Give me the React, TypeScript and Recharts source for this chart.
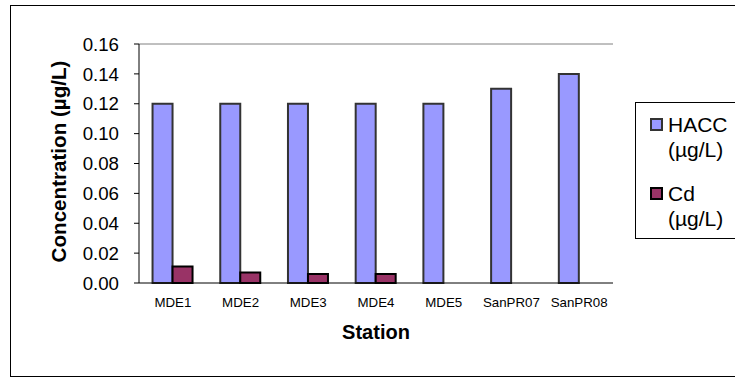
import { BarChart, Bar, XAxis, YAxis, ReferenceLine, Label } from "recharts";

const stations = ["MDE1", "MDE2", "MDE3", "MDE4", "MDE5", "SanPR07", "SanPR08"];
const hacc = [0.12, 0.12, 0.12, 0.12, 0.12, 0.13, 0.14];
const cd = [0.011, 0.007, 0.006, 0.006, null, null, null];
const yTicks = [0, 0.02, 0.04, 0.06, 0.08, 0.1, 0.12, 0.14, 0.16];
const boundaryTicks = [0, 1, 2, 3, 4, 5, 6, 7];

const FONT = '"Liberation Sans", Arial, sans-serif';
const HACC_FILL = "#9999FF";
const CD_FILL = "#993366";

const data = stations.map((s, i) => ({ station: s, hacc: hacc[i], cd: cd[i] }));

const legendItems = [
  { name: "HACC", fill: HACC_FILL, stroke: "#333333", top: 112 },
  { name: "Cd", fill: CD_FILL, stroke: "#000000", top: 180.6 },
];

export default function App() {
  return (
    <div
      style={{
        position: "absolute",
        left: 0,
        top: 0,
        width: 735,
        height: 377,
        overflow: "hidden",
        background: "#fff",
        fontFamily: FONT,
      }}
    >
      {/* chart area border */}
      <div
        style={{
          position: "absolute",
          left: 10,
          top: 5,
          width: 800,
          height: 372,
          border: "1px solid #000",
          boxSizing: "border-box",
        }}
      />

      <div style={{ position: "absolute", left: 0, top: 0 }}>
        <BarChart
          width={735}
          height={377}
          data={data}
          margin={{ top: 44, right: 122, bottom: 54, left: 59 }}
          barCategoryGap="20%"
          barGap={0}
        >
          <XAxis
            xAxisId="tk"
            type="number"
            domain={[0, 7]}
            ticks={boundaryTicks}
            height={0}
            axisLine={false}
            tickLine={{ stroke: "#000" }}
            tickSize={5}
            tick={() => <g />}
          />
          <XAxis
            xAxisId="cat"
            dataKey="station"
            height={40}
            axisLine={{ stroke: "#000" }}
            tickLine={false}
            tickSize={0}
            tickMargin={15}
            interval={0}
            tick={{ fill: "#000", fontSize: 13.3, fontFamily: FONT }}
          >
            <Label
              content={({ viewBox }: any) => (
                <text
                  x={viewBox.x + viewBox.width / 2}
                  y={viewBox.y + 56}
                  textAnchor="middle"
                  fontFamily={FONT}
                  fontWeight="bold"
                  fontSize={20}
                  fill="#000"
                >
                  Station
                </text>
              )}
            />
          </XAxis>
          <YAxis
            width={80}
            domain={[0, 0.16]}
            ticks={yTicks}
            interval={0}
            axisLine={{ stroke: "#000" }}
            tickLine={{ stroke: "#000" }}
            tickSize={5}
            tickMargin={15}
            tickFormatter={(v: number) => v.toFixed(2)}
            tick={{ fill: "#000", fontSize: 18.7, fontFamily: FONT }}
          >
            <Label
              content={({ viewBox }: any) => {
                const x = viewBox.x + 7;
                const y = viewBox.y + viewBox.height / 2 - 2;
                return (
                  <text
                    x={x}
                    y={y}
                    transform={`rotate(-90 ${x} ${y})`}
                    textAnchor="middle"
                    fontFamily={FONT}
                    fontWeight="bold"
                    fontSize={20.6}
                    fill="#000"
                  >
                    Concentration (µg/L)
                  </text>
                );
              }}
            />
          </YAxis>
          <ReferenceLine xAxisId="cat" y={0.16} stroke="#808080" strokeWidth={1} />
          <ReferenceLine xAxisId="tk" x={7} stroke="#808080" strokeWidth={1} />
          <Bar
            xAxisId="cat"
            dataKey="hacc"
            name="HACC (µg/L)"
            fill={HACC_FILL}
            stroke="#333333"
            strokeWidth={2}
            isAnimationActive={false}
          />
          <Bar
            xAxisId="cat"
            dataKey="cd"
            name="Cd (µg/L)"
            fill={CD_FILL}
            stroke="#000000"
            strokeWidth={2}
            isAnimationActive={false}
          />
        </BarChart>
      </div>

      {/* legend */}
      <div
        style={{
          position: "absolute",
          left: 635,
          top: 102,
          width: 200,
          height: 137,
          border: "1px solid #000",
          boxSizing: "border-box",
          background: "#fff",
        }}
      />
      {legendItems.map((it) => (
        <div key={it.name}>
          <div
            style={{
              position: "absolute",
              left: 650,
              top: it.top + 6,
              width: 13,
              height: 13,
              background: it.fill,
              border: `2px solid ${it.stroke}`,
              boxSizing: "border-box",
            }}
          />
          <div
            style={{
              position: "absolute",
              left: 668,
              top: it.top,
              fontSize: 21,
              lineHeight: "25px",
              color: "#000",
              whiteSpace: "nowrap",
            }}
          >
            {it.name}
            <br />
            (µg/L)
          </div>
        </div>
      ))}
    </div>
  );
}
